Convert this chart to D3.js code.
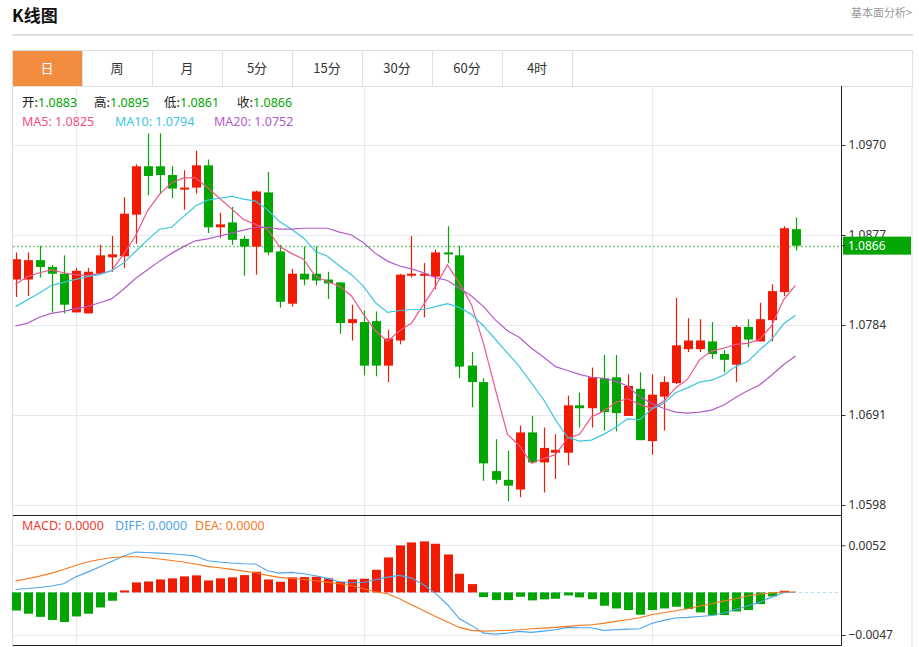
<!DOCTYPE html>
<html>
<head>
<meta charset="utf-8">
<script src="https://d3js.org/d3.v7.min.js"></script>
<style>
  body { margin: 0; background: #fff; }
  svg { display: block; font-family: "Noto Sans", "Noto Sans CJK SC", sans-serif; }
</style>
</head>
<body>
<svg id="chart" width="919" height="647"></svg>
<script>
// candle data (daily)
const opens = [1.0831,1.0831,1.0851,1.0844,1.0837,1.0797,1.0796,1.0837,1.0854,1.0855,
  1.0898,1.0948,1.0948,1.0939,1.0924,1.0926,1.0949,1.0885,1.0890,1.0873,
  1.0865,1.0921,1.0860,1.0806,1.0837,1.0837,1.0831,1.0828,1.0786,1.0787,
  1.0788,1.0742,1.0768,1.0835,1.0835,1.0834,1.0859,1.0856,1.0742,1.0725,
  1.0633,1.0624,1.0614,1.0673,1.0642,1.0652,1.0652,1.0701,1.0698,1.0729,
  1.0730,1.0690,1.0718,1.0664,1.0710,1.0724,1.0759,1.0759,1.0767,1.0754,
  1.0743,1.0782,1.0767,1.0789,1.0818,1.0883];
const highs = [1.0859,1.0859,1.0866,1.0846,1.0856,1.0843,1.0843,1.0867,1.0876,1.0916,
  1.0950,1.0982,1.0982,1.0948,1.0944,1.0964,1.0955,1.0900,1.0906,1.0876,
  1.0923,1.0942,1.0867,1.0842,1.0865,1.0865,1.0839,1.0828,1.0805,1.0799,
  1.0798,1.0779,1.0837,1.0876,1.0848,1.0862,1.0886,1.0866,1.0756,1.0729,
  1.0666,1.0654,1.0680,1.0690,1.0678,1.0671,1.0711,1.0714,1.0740,1.0753,
  1.0753,1.0733,1.0735,1.0733,1.0731,1.0812,1.0791,1.0790,1.0787,1.0758,
  1.0784,1.0790,1.0807,1.0826,1.0886,1.0895];
const lows = [1.0813,1.0814,1.0833,1.0797,1.0796,1.0797,1.0796,1.0837,1.0839,1.0843,
  1.0868,1.0918,1.0919,1.0915,1.0903,1.0920,1.0879,1.0874,1.0867,1.0835,
  1.0836,1.0856,1.0802,1.0803,1.0825,1.0825,1.0811,1.0775,1.0768,1.0732,
  1.0731,1.0725,1.0764,1.0833,1.0792,1.0821,1.0848,1.0729,1.0699,1.0623,
  1.0620,1.0602,1.0606,1.0642,1.0611,1.0625,1.0639,1.0678,1.0678,1.0675,
  1.0674,1.0690,1.0665,1.0650,1.0675,1.0723,1.0756,1.0756,1.0749,1.0735,
  1.0725,1.0761,1.0767,1.0767,1.0814,1.0861];
const closes = [1.0852,1.0851,1.0844,1.0837,1.0805,1.0840,1.0839,1.0856,1.0857,1.0899,
  1.0948,1.0938,1.0939,1.0925,1.0926,1.0949,1.0885,1.0888,1.0872,1.0865,
  1.0922,1.0859,1.0808,1.0837,1.0831,1.0830,1.0827,1.0786,1.0790,1.0742,
  1.0742,1.0770,1.0836,1.0837,1.0837,1.0859,1.0857,1.0741,1.0725,1.0641,
  1.0624,1.0618,1.0673,1.0642,1.0657,1.0655,1.0701,1.0698,1.0730,1.0694,
  1.0693,1.0721,1.0665,1.0712,1.0725,1.0763,1.0768,1.0768,1.0754,1.0748,
  1.0782,1.0769,1.0790,1.0819,1.0884,1.0866];

// moving averages as drawn
const ma5 = [1.0826,1.0834,1.0838,1.0841,1.0838,1.0836,1.0835,1.0837,1.0840,1.0857,
  1.0876,1.0902,1.0919,1.0931,1.0936,1.0936,1.0926,1.0915,1.0904,1.0893,
  1.0888,1.0883,1.0865,1.0858,1.0852,1.0834,1.0829,1.0824,1.0814,1.0795,
  1.0778,1.0767,1.0778,1.0786,1.0805,1.0824,1.0846,1.0827,1.0805,1.0765,
  1.0717,1.0671,1.0659,1.0641,1.0646,1.0650,1.0667,1.0671,1.0689,1.0695,
  1.0704,1.0708,1.0702,1.0698,1.0705,1.0719,1.0728,1.0748,1.0757,1.0760,
  1.0764,1.0765,1.0769,1.0783,1.0810,1.0825];
const ma10 = [1.0803,1.0810,1.0817,1.0825,1.0828,1.0831,1.0834,1.0836,1.0840,1.0848,
  1.0860,1.0872,1.0883,1.0885,1.0896,1.0907,1.0913,1.0915,1.0917,1.0914,
  1.0912,1.0903,1.0891,1.0883,1.0874,1.0860,1.0855,1.0845,1.0836,1.0824,
  1.0807,1.0797,1.0799,1.0800,1.0800,1.0803,1.0806,1.0802,1.0795,1.0783,
  1.0769,1.0755,1.0741,1.0724,1.0707,1.0686,1.0668,1.0664,1.0665,1.0671,
  1.0678,1.0687,1.0686,1.0697,1.0703,1.0714,1.0719,1.0725,1.0727,1.0732,
  1.0741,1.0746,1.0758,1.0769,1.0785,1.0794];
const ma20 = [1.0783,1.0786,1.0792,1.0796,1.0798,1.0801,1.0803,1.0807,1.0811,1.0821,
  1.0832,1.0841,1.0850,1.0858,1.0865,1.0871,1.0873,1.0876,1.0879,1.0882,
  1.0885,1.0885,1.0883,1.0883,1.0884,1.0884,1.0884,1.0880,1.0877,1.0869,
  1.0858,1.0850,1.0845,1.0842,1.0838,1.0833,1.0830,1.0822,1.0814,1.0803,
  1.0789,1.0778,1.0771,1.0760,1.0751,1.0741,1.0737,1.0733,1.0730,1.0729,
  1.0726,1.0721,1.0710,1.0703,1.0698,1.0694,1.0693,1.0694,1.0696,1.0701,
  1.0709,1.0716,1.0722,1.0732,1.0743,1.0752];

// MACD panel
const macdBars = [-0.0020,-0.00235,-0.0027,-0.00305,-0.00327,-0.00265,-0.00235,-0.00166,-0.00092,0.00022,
  0.0011,0.00121,0.00143,0.00155,0.00177,0.00188,0.00132,0.00155,0.00166,0.00191,
  0.00228,0.00143,0.00118,0.00166,0.00169,0.00173,0.00155,0.00118,0.00143,0.00151,
  0.0025,0.00386,0.00519,0.00552,0.00563,0.00537,0.00419,0.00206,0.00092,-0.00052,
  -0.00085,-0.00085,-0.00048,-0.00088,-0.00077,-0.0007,-0.00033,-0.00055,-0.00074,-0.00147,
  -0.00177,-0.00195,-0.00246,-0.00195,-0.00177,-0.00158,-0.00184,-0.00221,-0.00254,-0.0025,
  -0.0021,-0.00195,-0.00129,-0.00044,0.00018,0.0];
const diffs = [0.00033,0.00044,0.00055,0.0007,0.00096,0.00169,0.00224,0.0028,0.00342,0.00401,
  0.00445,0.00441,0.00434,0.00427,0.00416,0.00401,0.0035,0.00335,0.00324,0.00316,
  0.00313,0.00239,0.00213,0.00221,0.00206,0.00184,0.00155,0.00118,0.00107,0.0011,
  0.0014,0.00169,0.00188,0.00158,0.00085,-0.00011,-0.00136,-0.00291,-0.00364,-0.00449,
  -0.0046,-0.00449,-0.0043,-0.00441,-0.00427,-0.00412,-0.00386,-0.0039,-0.0039,-0.00419,
  -0.00412,-0.00405,-0.00401,-0.00342,-0.00309,-0.00283,-0.00276,-0.00265,-0.00254,-0.00228,
  -0.00188,-0.00151,-0.0011,-0.00052,-0.00004,0.00004];
const deas = [0.00125,0.00151,0.0018,0.00213,0.00254,0.00298,0.00335,0.00364,0.00383,0.00394,
  0.00394,0.00383,0.00368,0.00353,0.00335,0.00313,0.00287,0.00272,0.00254,0.00235,
  0.00217,0.00188,0.00166,0.00155,0.00143,0.00129,0.00114,0.00096,0.00077,0.0004,
  0.00007,-0.00015,-0.0007,-0.00136,-0.00199,-0.00265,-0.00327,-0.00386,-0.00419,-0.00427,
  -0.00423,-0.00419,-0.00412,-0.00401,-0.00394,-0.00386,-0.00375,-0.00364,-0.00357,-0.00342,
  -0.0032,-0.00302,-0.0028,-0.00246,-0.00224,-0.00202,-0.0018,-0.00151,-0.00125,-0.00096,
  -0.0007,-0.0004,-0.00018,-0.00007,0.00004,0.00004];

const priceTicks = [1.0598, 1.0691, 1.0784, 1.0877, 1.0970];
const macdTicks = [0.0052, -0.0047];
const gridIdx = [5, 29, 53];
const tabs = ["日", "周", "月", "5分", "15分", "30分", "60分", "4时"];

const RED = "#f11a02", GREEN = "#01a601";
const fmt = d3.format(".4f");

const svg = d3.select("#chart");

// header
svg.append("text").attr("x", 12).attr("y", 22)
  .style("font-family", "'Noto Sans CJK SC'").style("font-size", "17px").style("font-weight", "bold")
  .attr("fill", "#111").text("K线图");
svg.append("text").attr("x", 912).attr("y", 17).attr("text-anchor", "end")
  .style("font-family", "'Noto Sans CJK SC'").style("font-size", "11px")
  .attr("fill", "#999").text("基本面分析>");
svg.append("line").attr("x1", 12).attr("x2", 913).attr("y1", 35).attr("y2", 35)
  .attr("stroke", "#d4d4d4").attr("stroke-width", 1.5);

// tab bar
svg.append("rect").attr("x", 12.5).attr("y", 50.5).attr("width", 900).attr("height", 36)
  .attr("fill", "#fff").attr("stroke", "#e0e0e0");
const tabW = 70;
svg.append("rect").attr("x", 13).attr("y", 51).attr("width", tabW - 1).attr("height", 35).attr("fill", "#f28c3f");
svg.selectAll(".tabsep").data(tabs).enter().append("line")
  .attr("x1", (d, i) => 82.5 + i * tabW).attr("x2", (d, i) => 82.5 + i * tabW)
  .attr("y1", 51).attr("y2", 86).attr("stroke", "#e0e0e0");
svg.selectAll(".tab").data(tabs).enter().append("text")
  .attr("x", (d, i) => 47 + i * tabW).attr("y", 73).attr("text-anchor", "middle")
  .style("font-family", "'Noto Sans CJK SC'").style("font-size", "13px")
  .attr("fill", (d, i) => i === 0 ? "#fff" : "#333").text(d => d);

// chart frame
const pL = 13, pR = 841.5, pT = 86, pM = 515.5, pB = 645.5;
svg.append("line").attr("x1", 12.5).attr("x2", 12.5).attr("y1", 86).attr("y2", 647).attr("stroke", "#dcdcdc");
svg.append("line").attr("x1", 912).attr("x2", 912).attr("y1", 86).attr("y2", 647).attr("stroke", "#dcdcdc");

const x = d3.scaleLinear().domain([0, 65]).range([15.5, 795.5]);
const y = d3.scaleLinear().domain([1.0598, 1.0970]).range([505, 145]);
const m = d3.scaleLinear().domain([-0.0047, 0.0052]).range([635, 545.3]);

// grid
const grid = svg.append("g").attr("stroke", "#e4eaf0").attr("stroke-width", 1);
grid.selectAll(".vg").data(gridIdx).enter().append("line")
  .attr("x1", d => Math.round(x(d)) + 0.5).attr("x2", d => Math.round(x(d)) + 0.5)
  .attr("y1", pT).attr("y2", pB);
grid.selectAll(".hg").data(priceTicks).enter().append("line")
  .attr("x1", pL).attr("x2", pR).attr("y1", d => Math.round(y(d)) + 0.5).attr("y2", d => Math.round(y(d)) + 0.5);
grid.selectAll(".mg").data(macdTicks).enter().append("line")
  .attr("x1", pL).attr("x2", pR).attr("y1", d => Math.round(m(d)) + 0.5).attr("y2", d => Math.round(m(d)) + 0.5);

svg.append("clipPath").attr("id", "plot").append("rect")
  .attr("x", pL).attr("y", pT).attr("width", pR - pL).attr("height", pM - pT);

const plot = svg.append("g").attr("clip-path", "url(#plot)");

// current price line
const last = closes.length - 1;
plot.append("line").attr("x1", pL).attr("x2", pR)
  .attr("y1", Math.round(y(closes[last])) + 0.5).attr("y2", Math.round(y(closes[last])) + 0.5)
  .attr("stroke", "#7fd07f").attr("stroke-width", 1.5).attr("stroke-dasharray", "2,2");

// candles
const idx = d3.range(opens.length);
const color = i => closes[i] >= opens[i] ? RED : GREEN;
plot.selectAll(".wick").data(idx).enter().append("line")
  .attr("x1", i => Math.round(x(i)) + 0.5).attr("x2", i => Math.round(x(i)) + 0.5)
  .attr("y1", i => y(highs[i])).attr("y2", i => y(lows[i]))
  .attr("stroke", color).attr("stroke-width", 1.2);
plot.selectAll(".body").data(idx).enter().append("rect")
  .attr("x", i => Math.round(x(i)) - 4)
  .attr("width", 9)
  .attr("y", i => y(Math.max(opens[i], closes[i])))
  .attr("height", i => Math.max(2, Math.abs(y(opens[i]) - y(closes[i]))))
  .attr("fill", color);

// MA lines
const line = d3.line().x((d, i) => x(i)).y(d => y(d));
[[ma5, "#f0548c"], [ma10, "#3cc6e0"], [ma20, "#b55bc9"]].forEach(([s, c]) => {
  plot.append("path").datum(s).attr("d", line).attr("fill", "none")
    .attr("stroke", c).attr("stroke-width", 1.2);
});

// legend
[["开:", opens[last], 22], ["高:", highs[last], 94], ["低:", lows[last], 164], ["收:", closes[last], 237]].forEach(([k, v, px]) => {
  const t = svg.append("text").attr("x", px).attr("y", 107).style("font-size", "12.5px");
  t.append("tspan").attr("fill", "#222").style("font-family", "'Noto Sans CJK SC'").text(k);
  t.append("tspan").attr("fill", color(last)).text(fmt(v));
});
[["MA5: ", ma5, "#ef4f86", 22], ["MA10: ", ma10, "#3ec6df", 115], ["MA20: ", ma20, "#b05bc8", 214]].forEach(([k, s, c, px]) => {
  svg.append("text").attr("x", px).attr("y", 126).style("font-size", "12.5px")
    .attr("fill", c).text(k + fmt(s[s.length - 1]));
});

// price axis
const yAxis = d3.axisRight(y).tickValues(priceTicks).tickFormat(fmt).tickSize(4).tickPadding(3);
const ya = svg.append("g").attr("transform", `translate(${pR},0)`).call(yAxis);
ya.select(".domain").remove();
ya.selectAll(".tick line").attr("stroke", "#333");
ya.selectAll(".tick text").attr("fill", "#333").style("font-size", "12px").style("font-family", "'Noto Sans'");

// current price tag
const py = y(closes[last]);
svg.append("rect").attr("x", 843).attr("y", py - 9).attr("width", 68).attr("height", 18).attr("fill", "#04a604");
svg.append("line").attr("x1", pR).attr("x2", pR + 4).attr("y1", py).attr("y2", py).attr("stroke", "#333");
svg.append("text").attr("x", 848).attr("y", py + 4.5).attr("fill", "#fff").style("font-size", "12px").text(fmt(closes[last]));

// MACD
const z = Math.round(m(0)) + 0.5;
svg.append("line").attr("x1", pL).attr("x2", pR).attr("y1", z).attr("y2", z)
  .attr("stroke", "#b5dcef").attr("stroke-width", 1.2).attr("stroke-dasharray", "3,3");
svg.selectAll(".mbar").data(idx.filter(i => Math.abs(macdBars[i]) > 0.00005)).enter().append("rect")
  .attr("x", i => Math.round(x(i)) - 4).attr("width", 9)
  .attr("y", i => Math.min(m(0), m(macdBars[i])))
  .attr("height", i => Math.abs(m(macdBars[i]) - m(0)))
  .attr("fill", i => macdBars[i] >= 0 ? RED : GREEN);
const mline = d3.line().x((d, i) => x(i)).y(d => m(d));
svg.append("path").datum(diffs).attr("d", mline).attr("fill", "none").attr("stroke", "#4ea4ec").attr("stroke-width", 1.1);
svg.append("path").datum(deas).attr("d", mline).attr("fill", "none").attr("stroke", "#f57a1f").attr("stroke-width", 1.1);

[["MACD: ", macdBars, "#ee3d35", 22], ["DIFF: ", diffs, "#4ea4ec", 115], ["DEA: ", deas, "#f57a1f", 195]].forEach(([k, s, c, px]) => {
  svg.append("text").attr("x", px).attr("y", 530).style("font-size", "12.5px")
    .attr("fill", c).text(k + fmt(Math.abs(s[s.length - 1]) < 0.00005 ? 0 : s[s.length - 1]));
});

const mAxis = d3.axisRight(m).tickValues(macdTicks).tickFormat(fmt).tickSize(4).tickPadding(3);
const mAx = svg.append("g").attr("transform", `translate(${pR},0)`).call(mAxis);
mAx.select(".domain").remove();
mAx.selectAll(".tick line").attr("stroke", "#333");
mAx.selectAll(".tick text").attr("fill", "#333").style("font-size", "12px").style("font-family", "'Noto Sans'");

// panel borders
svg.append("line").attr("x1", pL).attr("x2", pR).attr("y1", pM).attr("y2", pM).attr("stroke", "#222");
svg.append("line").attr("x1", pL).attr("x2", pR).attr("y1", pB).attr("y2", pB).attr("stroke", "#222");
svg.append("line").attr("x1", pR).attr("x2", pR).attr("y1", pT).attr("y2", pB).attr("stroke", "#222");
</script>
</body>
</html>
